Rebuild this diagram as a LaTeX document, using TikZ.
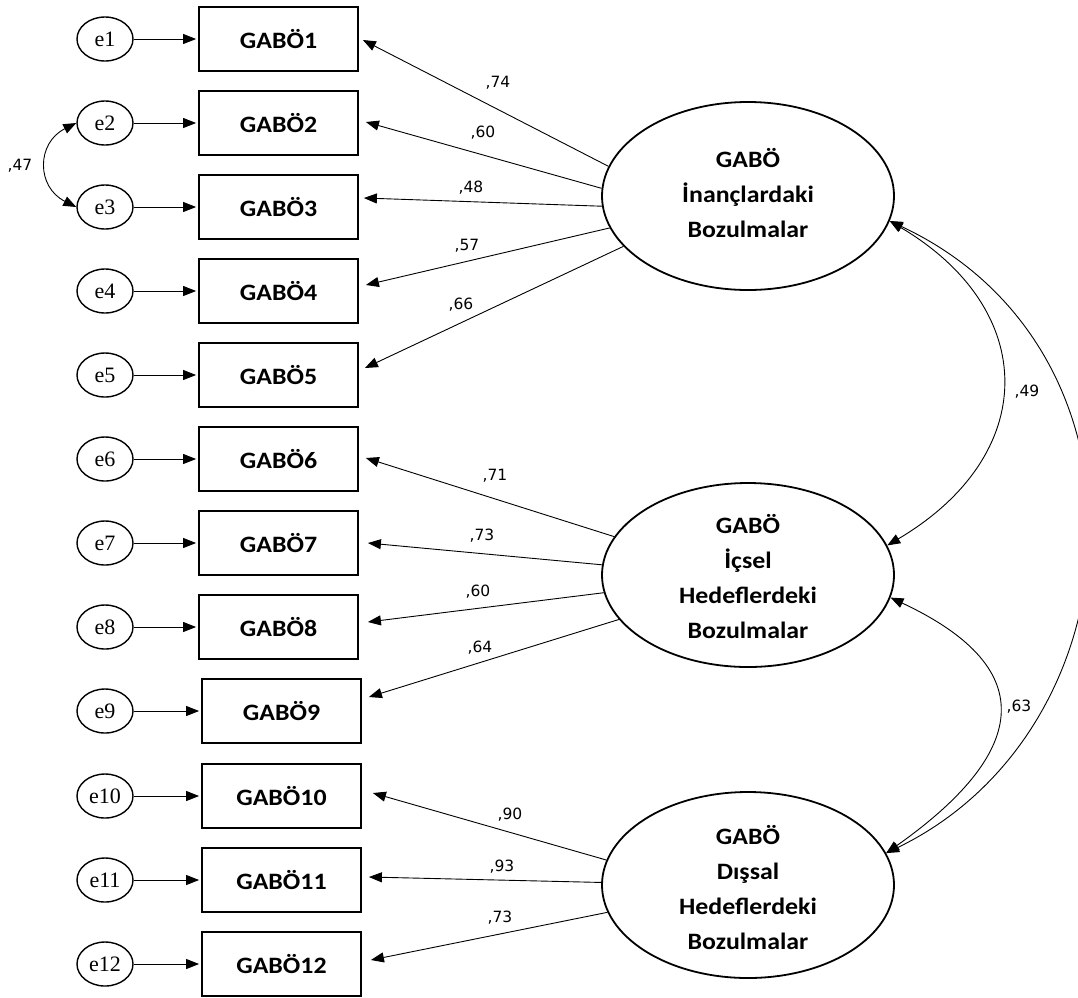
\documentclass[tikz,border=0pt]{standalone}
\usepackage{fontspec}
\usetikzlibrary{arrows.meta,shapes.geometric}
\newfontfamily\boxfont{Carlito}[FakeStretch=1.1]
\newfontfamily\efont{Liberation Serif}
\newfontfamily\numfont{DejaVu Sans}
\tikzset{
  obsbox/.style={draw, line width=1.8pt, minimum width=159pt, minimum height=64pt, inner sep=0pt,
    font=\boxfont\bfseries\fontsize{23.5}{28}\selectfont},
  errnode/.style={draw, ellipse, line width=1.4pt, minimum width=56pt, minimum height=44pt, inner sep=0pt,
    font=\efont\fontsize{22}{24}\selectfont},
  latnode/.style={draw, ellipse, line width=1.8pt, minimum width=292pt, inner sep=0pt},
  lattext/.style={align=center, inner sep=0pt, font=\boxfont\bfseries\fontsize{23.5}{35}\selectfont},
  numlab/.style={inner sep=0pt, font=\numfont\fontsize{15.5}{17}\selectfont},
  arr/.style={-{Triangle[length=13pt,width=10pt]}, line width=0.9pt},
  cov/.style={{Triangle[length=13pt,width=10pt]}-{Triangle[length=13pt,width=10pt]}, line width=0.9pt},
}
\begin{document}
\begin{tikzpicture}[x=1pt,y=-1pt]
\useasboundingbox (0,0) rectangle (1078,997);
% observed boxes
\foreach \i/\y/\x in {1/39/278.5,2/123/278.5,3/207/278.5,4/291/278.5,5/375/278.5,6/459/278.5,7/543/278.5,8/627/278.5,9/711/281.5,10/796/281.5,11/880/281.5,12/964/281.5}{
  \node[obsbox] (b\i) at (\x,\y) {GABÖ\i};
  \node[errnode] (e\i) at (105,\y) {e\i};
  \draw[arr, shorten >=2pt] (e\i) -- (b\i);
}
% latent variables
\node[latnode, minimum height=188pt] (L1) at (748,196) {};
\node[lattext] (L1t) at (748,193) {GABÖ\\İnançlardaki\\Bozulmalar};
\node[latnode, minimum height=184pt] (L2) at (748,575) {};
\node[lattext] (L2t) at (748,577) {GABÖ\\İçsel\\Hedeflerdeki\\Bozulmalar};
\node[latnode, minimum height=186pt] (L3) at (748,885) {};
\node[lattext] (L3t) at (748,888) {GABÖ\\Dışsal\\Hedeflerdeki\\Bozulmalar};
% loadings
\draw[arr] (L1.168) -- ([shift={(4,1)}]b1.east);
\draw[arr] (L1.177) -- ([shift={(7,-1)}]b2.east);
\draw[arr] (L1.184) -- ([shift={(5,-9)}]b3.east);
\draw[arr] (L1.193) -- ([shift={(7,-6)}]b4.east);
\draw[arr] (L1.202) -- ([shift={(6,-7)}]b5.east);
\draw[arr] (L2.164) -- ([shift={(7,-1)}]b6.east);
\draw[arr] (L2.176) -- ([shift={(9,0)}]b7.east);
\draw[arr] (L2.187) -- ([shift={(9,-5)}]b8.east);
\draw[arr] (L2.199) -- ([shift={(7,-14)}]b9.east);
\draw[arr] (L3.170) -- ([shift={(11,-3)}]b10.east);
\draw[arr] (L3.179) -- ([shift={(7,-3)}]b11.east);
\draw[arr] (L3.191) -- ([shift={(9,-4)}]b12.east);
% loading labels
\node[numlab] (n1) at (498,83) {,74};
\node[numlab] (n2) at (483,133) {,60};
\node[numlab] (n3) at (471,188) {,48};
\node[numlab] (n4) at (467,246) {,57};
\node[numlab] (n5) at (461,305) {,66};
\node[numlab] (n6) at (495,476) {,71};
\node[numlab] (n7) at (482,536) {,73};
\node[numlab] (n8) at (478,592) {,60};
\node[numlab] (n9) at (480,648) {,64};
\node[numlab] (n10) at (510,815) {,90};
\node[numlab] (n11) at (502,867) {,93};
\node[numlab] (n12) at (500,918) {,73};
% error covariance
\draw[cov] (e2.west) .. controls +(-40,20) and +(-40,-20) .. (e3.west);
\node[numlab] (c23) at (20,166) {,47};
% latent covariances
\draw[cov] (L1.-10) .. controls (1040,310) and (1040,455) .. (L2.12);
\draw[cov] (L2.-9) .. controls (1045,670) and (1025,755) .. (L3.13);
\draw[cov] (L1.-10) .. controls (1165,350) and (1140,730) .. (L3.13);
\node[numlab] (c12) at (1027,392) {,49};
\node[numlab] (c23b) at (1019,707) {,63};
\end{tikzpicture}
\end{document}
